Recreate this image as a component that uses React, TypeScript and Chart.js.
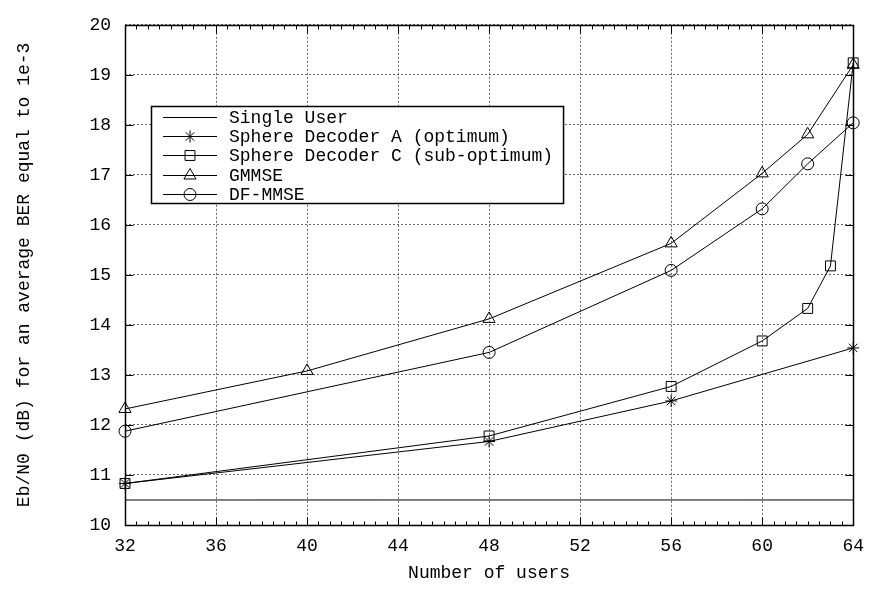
import React, { useEffect, useRef } from 'react';
import { Chart, registerables } from 'chart.js';

Chart.register(...registerables);

// ---- data ----
const xTicksMin = 32;
const xTicksMax = 64;
const yTicksMin = 10;
const yTicksMax = 20;

const usersSingle = [32, 64];
const singleUser = [10.5, 10.5];

const usersA = [32, 48, 56, 64];
const sphereA = [10.83, 11.67, 12.48, 13.54];

const usersC = [32, 48, 56, 60, 62, 63, 64];
const sphereC = [10.83, 11.78, 12.77, 13.68, 14.33, 15.18, 19.24];

const usersG = [32, 40, 48, 56, 60, 62, 64];
const gmmse = [12.32, 13.08, 14.12, 15.63, 17.03, 17.81, 19.2];

const usersD = [32, 48, 56, 60, 62, 64];
const dfmmse = [11.875, 13.45, 15.09, 16.32, 17.22, 18.04];

const seriesLabels = [
  'Single User',
  'Sphere Decoder A (optimum)',
  'Sphere Decoder C (sub-optimum)',
  'GMMSE',
  'DF-MMSE',
];

const xTitle = 'Number of users';
const yTitle = 'Eb/N0 (dB) for an average BER equal to 1e-3';

const FONT = "'Liberation Mono', 'DejaVu Sans Mono', monospace";
const FS = 18;

function pts(xs: number[], ys: number[]) {
  return xs.map((x, i) => ({ x, y: ys[i] }));
}

function drawMarker(ctx: CanvasRenderingContext2D, style: string, r: number, x: number, y: number) {
  if (!style || r <= 0) return;
  ctx.beginPath();
  if (style === 'circle') {
    ctx.arc(x, y, r, 0, Math.PI * 2);
  } else if (style === 'rect') {
    const s = Math.SQRT1_2 * r;
    ctx.rect(x - s, y - s, 2 * s, 2 * s);
  } else if (style === 'triangle') {
    let rad = 0;
    ctx.moveTo(x + Math.sin(rad) * r, y - Math.cos(rad) * r);
    rad += (2 * Math.PI) / 3;
    ctx.lineTo(x + Math.sin(rad) * r, y - Math.cos(rad) * r);
    rad += (2 * Math.PI) / 3;
    ctx.lineTo(x + Math.sin(rad) * r, y - Math.cos(rad) * r);
    ctx.closePath();
  } else if (style === 'star') {
    ctx.moveTo(x - r, y);
    ctx.lineTo(x + r, y);
    ctx.moveTo(x, y - r);
    ctx.lineTo(x, y + r);
    const d = r * Math.SQRT1_2;
    ctx.moveTo(x - d, y - d);
    ctx.lineTo(x + d, y + d);
    ctx.moveTo(x - d, y + d);
    ctx.lineTo(x + d, y - d);
  }
  ctx.stroke();
}

const framePlugin = {
  id: 'gnuFrame',
  afterDatasetsDraw(chart: any) {
    const { ctx, chartArea } = chart;
    const xs = chart.scales.x;
    const ys = chart.scales.y;
    const l = Math.round(chartArea.left) + 0.5;
    const r = Math.round(chartArea.right) + 0.5;
    const t = Math.round(chartArea.top) + 0.5;
    const b = Math.round(chartArea.bottom) + 0.5;
    ctx.save();
    ctx.strokeStyle = '#000';
    ctx.lineWidth = 1;
    ctx.setLineDash([]);
    // ticks
    ctx.beginPath();
    for (let v = xTicksMin; v <= xTicksMax + 1e-9; v += 0.5) {
      const px = Math.round(xs.getPixelForValue(v)) + 0.5;
      const major = Math.abs((v - xTicksMin) % 4) < 1e-9;
      const len = major ? 8 : 4;
      ctx.moveTo(px, b);
      ctx.lineTo(px, b - len);
      ctx.moveTo(px, t);
      ctx.lineTo(px, t + len);
    }
    for (let v = yTicksMin; v <= yTicksMax + 1e-9; v += 1) {
      const py = Math.round(ys.getPixelForValue(v)) + 0.5;
      ctx.moveTo(l, py);
      ctx.lineTo(l + 8, py);
      ctx.moveTo(r, py);
      ctx.lineTo(r - 8, py);
    }
    ctx.stroke();
    // frame
    ctx.lineWidth = 1.5;
    ctx.strokeRect(l, t, r - l, b - t);
    ctx.restore();
  },
  afterDraw(chart: any) {
    const { ctx } = chart;
    const ds = chart.data.datasets;
    ctx.save();
    ctx.font = `${FS}px ${FONT}`;
    let maxW = 0;
    ds.forEach((d: any) => {
      maxW = Math.max(maxW, ctx.measureText(d.label).width);
    });
    const boxL = 151;
    const boxT = 106;
    const rowH = 19.4;
    const firstY = 116.5;
    const textX = 229;
    const boxB = 203;
    const boxR = textX + maxW + 10;
    ctx.fillStyle = '#fff';
    ctx.fillRect(boxL, boxT, boxR - boxL, boxB - boxT);
    ctx.strokeStyle = '#000';
    ctx.lineWidth = 1.5;
    ctx.setLineDash([]);
    ctx.strokeRect(boxL + 0.5, boxT + 0.5, boxR - boxL, boxB - boxT);
    ctx.lineWidth = 1;
    ds.forEach((d: any, i: number) => {
      const y = Math.round(firstY + i * rowH) + 0.5;
      ctx.beginPath();
      ctx.moveTo(163, y);
      ctx.lineTo(217, y);
      ctx.stroke();
      drawMarker(ctx, d.pointStyle, d.pointRadius, 190, y);
      ctx.fillStyle = '#000';
      ctx.textAlign = 'left';
      ctx.textBaseline = 'middle';
      ctx.fillText(d.label, textX, y + 1);
    });
    ctx.restore();
  },
};

export default function App() {
  const ref = useRef<HTMLCanvasElement>(null);
  useEffect(() => {
    const base = {
      borderColor: '#000',
      borderWidth: 1,
      backgroundColor: 'rgba(0,0,0,0)',
      pointBorderColor: '#000',
      pointBackgroundColor: 'rgba(0,0,0,0)',
      pointBorderWidth: 1,
      tension: 0,
      clip: false as any,
    };
    const chart = new Chart(ref.current as HTMLCanvasElement, {
      type: 'line',
      data: {
        datasets: [
          { ...base, label: seriesLabels[0], data: pts(usersSingle, singleUser), pointRadius: 0, pointStyle: '' as any },
          { ...base, label: seriesLabels[1], data: pts(usersA, sphereA), pointRadius: 6, pointStyle: 'star' },
          { ...base, label: seriesLabels[2], data: pts(usersC, sphereC), pointRadius: 7, pointStyle: 'rect' },
          { ...base, label: seriesLabels[3], data: pts(usersG, gmmse), pointRadius: 7, pointStyle: 'triangle' },
          { ...base, label: seriesLabels[4], data: pts(usersD, dfmmse), pointRadius: 6, pointStyle: 'circle' },
        ] as any,
      },
      options: {
        responsive: false,
        animation: false,
        devicePixelRatio: 1,
        layout: { padding: { top: 13, right: 15, left: 0, bottom: 0 } },
        plugins: {
          legend: { display: false },
          tooltip: { enabled: false },
        },
        elements: { point: { hoverRadius: 0 } },
        scales: {
          x: {
            type: 'linear',
            min: xTicksMin,
            max: xTicksMax,
            ticks: {
              stepSize: 4,
              color: '#000',
              padding: 10,
              font: { family: FONT, size: FS },
              maxRotation: 0,
            },
            grid: { color: '#666', lineWidth: 1, drawTicks: false },
            border: { display: false, dash: [2, 2] },
            title: {
              display: true,
              text: xTitle,
              color: '#000',
              font: { family: FONT, size: FS },
              padding: { top: 0, bottom: 6 },
            },
            afterFit: (s: any) => {
              s.height = 65;
            },
          },
          y: {
            type: 'linear',
            min: yTicksMin,
            max: yTicksMax,
            ticks: {
              stepSize: 1,
              color: '#000',
              padding: 14,
              font: { family: FONT, size: FS },
            },
            grid: { color: '#666', lineWidth: 1, drawTicks: false },
            border: { display: false, dash: [2, 2] },
            title: {
              display: true,
              text: yTitle,
              color: '#000',
              font: { family: FONT, size: FS },
              padding: { top: 13, bottom: 0 },
            },
            afterFit: (s: any) => {
              s.width = 125;
            },
          },
        },
      },
      plugins: [framePlugin],
    });
    return () => chart.destroy();
  }, []);
  return (
    <div style={{ position: 'absolute', left: 0, top: 0, width: 874, height: 590, background: '#fff' }}>
      <canvas ref={ref} width={874} height={590} style={{ width: 874, height: 590, display: 'block' }} />
    </div>
  );
}
